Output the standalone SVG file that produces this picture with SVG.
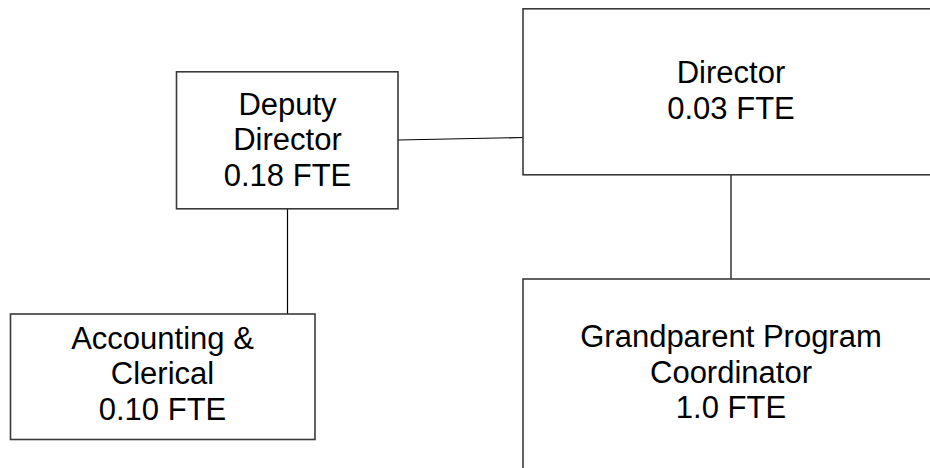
<svg xmlns="http://www.w3.org/2000/svg" width="930" height="468" viewBox="0 0 930 468">
<style>
.box{fill:#ffffff;stroke:#3a3a3a;stroke-width:1.6}
.lbl{font-family:"Liberation Sans",Arial,sans-serif;font-size:31px;fill:#000;text-anchor:middle}
.conn{stroke:#000;stroke-width:1.2;fill:none}
</style>
<rect width="930" height="468" fill="#ffffff"/>
<g id="connectors">
<line class="conn" x1="398" y1="140" x2="523" y2="137.5"/>
<line class="conn" x1="731" y1="175" x2="731" y2="279"/>
<line class="conn" x1="287.5" y1="209" x2="287.5" y2="314"/>
</g>
<g id="director">
<rect class="box" x="523" y="8.8" width="417" height="166"/>
<text class="lbl" x="731" y="83.3">Director</text>
<text class="lbl" x="731" y="118.8">0.03 FTE</text>
</g>
<g id="deputy-director">
<rect class="box" x="176.5" y="71.8" width="221.5" height="137"/>
<text class="lbl" x="287.5" y="114.5">Deputy</text>
<text class="lbl" x="287.5" y="150">Director</text>
<text class="lbl" x="287.5" y="185.5">0.18 FTE</text>
</g>
<g id="accounting">
<rect class="box" x="10.5" y="314" width="304.5" height="125.5"/>
<text class="lbl" x="162.5" y="348.5">Accounting &amp;</text>
<text class="lbl" x="162.5" y="384">Clerical</text>
<text class="lbl" x="162.5" y="419.5">0.10 FTE</text>
</g>
<g id="grandparent">
<rect class="box" x="523" y="279" width="417" height="200"/>
<text class="lbl" x="731" y="347">Grandparent Program</text>
<text class="lbl" x="731" y="382.5">Coordinator</text>
<text class="lbl" x="731" y="418">1.0 FTE</text>
</g>
</svg>
